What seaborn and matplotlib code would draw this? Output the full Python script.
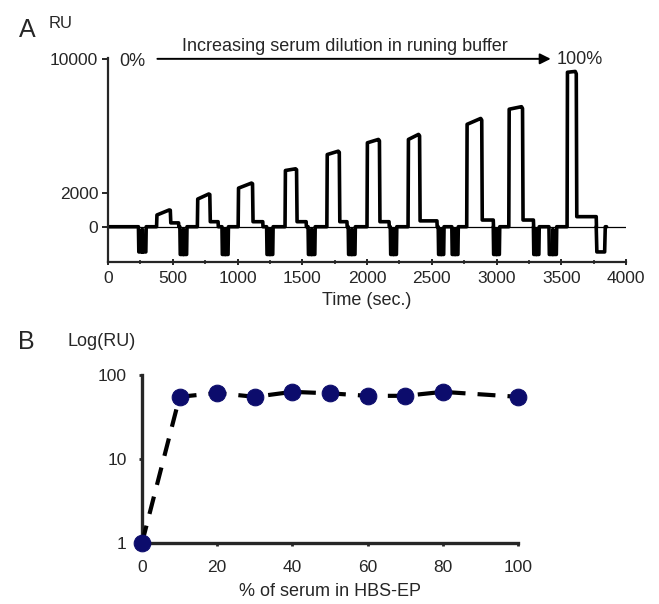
import matplotlib
matplotlib.use("Agg")
import matplotlib.pyplot as plt
from matplotlib.ticker import MultipleLocator, NullLocator
import seaborn as sns

# ---- Panel A: sensorgram (time in s, response in RU) ----
dip_start = [235, 555, 880, 1225, 1545, 1855, 2180, 2550, 2655, 2975, 3285, 3405, 3770]
dip_end = [295, 610, 930, 1275, 1600, 1910, 2230, 2595, 2705, 3025, 3330, 3465, 3840]
dip_depth = [1500, 1650, 1650, 1650, 1650, 1650, 1650, 1650, 1650, 1650, 1650, 1650, 1500]
dip_solid = [True] * 12 + [False]

pulse_on = [375, 690, 1005, 1367, 1690, 2000, 2317, 2770, 3095, 3545]
pulse_off = [485, 790, 1120, 1460, 1790, 2100, 2410, 2890, 3205, 3620]
top_start = [700, 1650, 2300, 3350, 4300, 5000, 5200, 6100, 7000, 9200]
top_end = [1000, 1950, 2600, 3450, 4500, 5200, 5500, 6450, 7150, 9250]
plateau_end = [545, 850, 1195, 1530, 1845, 2170, 2540, 2975, 3285, 3770]
plateau_level = [230, 300, 300, 300, 300, 300, 350, 400, 400, 600]
trace_end = 3850

# ---- Panel B: plateau response vs serum fraction ----
serum_pct = [0, 10, 20, 30, 40, 50, 60, 70, 80, 100]
log_ru = [1, 55, 61, 55, 63, 60.5, 56.5, 56.5, 63, 55]


def build_trace():
    events = []
    for a, b, d, solid in zip(dip_start, dip_end, dip_depth, dip_solid):
        if solid:
            m = (a + b) / 2
            pts = [(a, 0), (a + 3, -d), (m, -d), (m, -150), (m + 1, -d), (b - 3, -d), (b, 0)]
        else:
            pts = [(a, 0), (a + 5, -d), (b - 5, -d), (b, 0)]
        events.append((a, pts))
    for on, off, ta, tb, pe, pl in zip(pulse_on, pulse_off, top_start, top_end,
                                       plateau_end, plateau_level):
        pts = [(on, 0), (on + 3, ta), (off - 12, tb), (off - 4, tb * 0.985),
               (off, pl), (pe, pl), (pe + 2, 0)]
        events.append((on, pts))
    events.sort(key=lambda e: e[0])
    t, r = [0], [0]
    for _, pts in events:
        for x, y in pts:
            t.append(x)
            r.append(y)
    t.append(trace_end)
    r.append(0)
    return t, r


sns.set_style("ticks")
plt.rcParams['font.family'] = ['Liberation Sans', 'DejaVu Sans']
plt.rcParams['axes.linewidth'] = 1.6

fig = plt.figure(figsize=(6.59, 6.04), dpi=100)

# Panel A
ax1 = fig.add_axes([108 / 659, 1 - 262 / 604, 518 / 659, 204 / 604])
times, ru = build_trace()
ax1.axhline(0, color='black', lw=0.9, zorder=1)
sns.lineplot(x=times, y=ru, sort=False, estimator=None, color='black', lw=2.6, ax=ax1)
ax1.lines[-1].set_solid_joinstyle('round')
ax1.set_xlim(0, 4000)
ax1.set_ylim(-2100, 10050)
ax1.set_xticks(range(0, 4001, 500))
ax1.xaxis.set_minor_locator(MultipleLocator(250))
ax1.set_yticks([0, 2000, 10000])
ax1.tick_params(axis='x', which='major', direction='inout', length=5, width=1.4,
                labelsize=12.5, pad=4)
ax1.tick_params(axis='x', which='minor', direction='inout', length=3, width=1.2)
ax1.tick_params(axis='y', direction='out', length=4, width=1.4, labelsize=12.5, pad=3)
ax1.set_xlabel('Time (sec.)', fontsize=13, labelpad=4)
ax1.set_ylabel('')
sns.despine(ax=ax1)

ax1.annotate('', xy=(3440, 10000), xytext=(360, 10000),
             arrowprops=dict(arrowstyle='-|>', color='black', lw=1.4, mutation_scale=16),
             annotation_clip=False)
ax1.text(1830, 10720, 'Increasing serum dilution in runing buffer', fontsize=13,
         ha='center', va='center')
ax1.text(185, 9850, '0%', fontsize=13, ha='center', va='center')
ax1.text(3645, 9950, '100%', fontsize=13, ha='center', va='center')

fig.text(27 / 659, 1 - 30 / 604, 'A', fontsize=18, ha='center', va='center')
fig.text(61 / 659, 1 - 23 / 604, 'RU', fontsize=12, ha='center', va='center')

# Panel B
ax2 = fig.add_axes([142 / 659, 1 - 543 / 604, 376 / 659, 168 / 604])
sns.lineplot(x=serum_pct, y=log_ru, sort=False, estimator=None, color='black', lw=3,
             linestyle=(0, (4.3, 2.9)), marker='o', markersize=12,
             markerfacecolor='#0c0c6c', markeredgecolor='#0c0c6c', ax=ax2, clip_on=False,
             zorder=3)
ax2.set_yscale('log')
ax2.set_xlim(0, 100)
ax2.set_ylim(1, 100)
ax2.set_yticks([1, 10, 100])
ax2.set_yticklabels(['1', '10', '100'])
ax2.yaxis.set_minor_locator(NullLocator())
ax2.set_xticks(range(0, 101, 20))
ax2.tick_params(axis='y', direction='out', length=2, width=2, labelsize=12.5, pad=9)
ax2.tick_params(axis='x', direction='out', length=2, width=2, labelsize=12.5, pad=10)
for side in ['left', 'bottom']:
    ax2.spines[side].set_linewidth(2.4)
ax2.set_xlabel('% of serum in HBS-EP', fontsize=13, labelpad=6)
ax2.set_ylabel('')
sns.despine(ax=ax2)

fig.text(26 / 659, 1 - 342 / 604, 'B', fontsize=18, ha='center', va='center')
fig.text(102 / 659, 1 - 341 / 604, 'Log(RU)', fontsize=13, ha='center', va='center')

fig.savefig('out.png', dpi=100)
